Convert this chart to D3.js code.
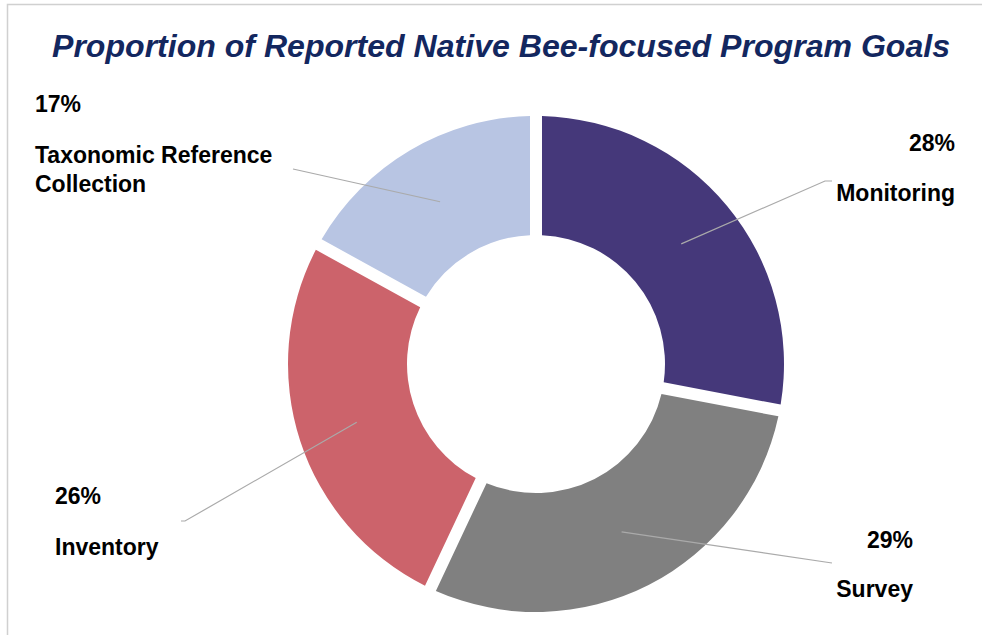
<!DOCTYPE html>
<meta charset="utf-8">
<style>
  body { margin: 0; background: #fff; }
  text { font-family: "Liberation Sans", Arial, sans-serif; }
  .label { font-size: 23px; font-weight: bold; fill: #000; }
  .leader { fill: none; stroke: #aaa; stroke-width: 1.2; }
</style>
<svg width="982" height="635"></svg>
<script src="https://d3js.org/d3.v7.min.js"></script>
<script>

var categories = ["Monitoring", "Survey", "Inventory", "Taxonomic Reference Collection"],
    values = [28, 29, 26, 17],
    percentLabels = ["28%", "29%", "26%", "17%"],
    colors = ["#45387a", "#808080", "#cc636b", "#b8c5e3"];

// where each label sits (layout only)
var labelLayout = [
  {x: 955, anchor: "end",   pctY: 151, nameY: 201, end: [825, 181], tail: [832, 181]},
  {x: 913, anchor: "end",   pctY: 548, nameY: 597, end: [832, 563], tail: null},
  {x: 55,  anchor: "start", pctY: 504, nameY: 555, end: [185, 521], tail: [181, 521]},
  {x: 35,  anchor: "start", pctY: 112, nameY: 163, end: [293, 169], tail: null}
];

var svg = d3.select("svg"),
    cx = 536, cy = 364,
    outerR = 248, innerR = 129;

// frame
svg.append("path")
    .attr("d", "M7.5,635V4.5H982")
    .attr("fill", "none")
    .attr("stroke", "#d0d0d0")
    .attr("stroke-width", 1.5);

svg.append("text")
    .attr("x", 501)
    .attr("y", 57)
    .attr("text-anchor", "middle")
    .attr("textLength", 898)
    .attr("lengthAdjust", "spacingAndGlyphs")
    .style("font-size", "32px")
    .style("font-weight", "bold")
    .style("font-style", "italic")
    .style("fill", "#13275f")
    .text("Proportion of Reported Native Bee-focused Program Goals");

var data = categories.map(function(c, i) {
  return {name: c, value: values[i], pct: percentLabels[i], color: colors[i], layout: labelLayout[i]};
});

var pie = d3.pie()
    .sort(null)
    .value(function(d) { return d.value; });

var arc = d3.arc()
    .innerRadius(innerR)
    .outerRadius(outerR)
    .padAngle(12 / outerR)
    .padRadius(outerR);

var arcs = pie(data);

var g = svg.append("g")
    .attr("transform", "translate(" + cx + "," + cy + ")");

g.selectAll(".slice")
  .data(arcs)
  .enter().append("path")
    .attr("class", "slice")
    .attr("d", arc)
    .style("fill", function(d) { return d.data.color; });

// leader lines from slice centroid out to the label
g.selectAll(".leader")
  .data(arcs)
  .enter().append("polyline")
    .attr("class", "leader")
    .attr("points", function(d) {
      var c = arc.centroid(d),
          L = d.data.layout,
          pts = [c, [L.end[0] - cx, L.end[1] - cy]];
      if (L.tail) pts.push([L.tail[0] - cx, L.tail[1] - cy]);
      return pts.map(function(p) { return p.join(","); }).join(" ");
    });

var labels = svg.selectAll(".lab")
  .data(data)
  .enter().append("g")
    .attr("class", "lab");

labels.append("text")
    .attr("class", "label")
    .attr("x", function(d) { return d.layout.x; })
    .attr("y", function(d) { return d.layout.pctY; })
    .attr("text-anchor", function(d) { return d.layout.anchor; })
    .text(function(d) { return d.pct; });

labels.each(function(d) {
  var words = d.name === "Taxonomic Reference Collection" ? ["Taxonomic Reference", "Collection"] : [d.name];
  var t = d3.select(this).append("text")
      .attr("class", "label")
      .attr("x", d.layout.x)
      .attr("y", d.layout.nameY)
      .attr("text-anchor", d.layout.anchor);
  words.forEach(function(w, i) {
    t.append("tspan")
        .attr("x", d.layout.x)
        .attr("dy", i ? 29 : 0)
        .text(w);
  });
});

</script>
